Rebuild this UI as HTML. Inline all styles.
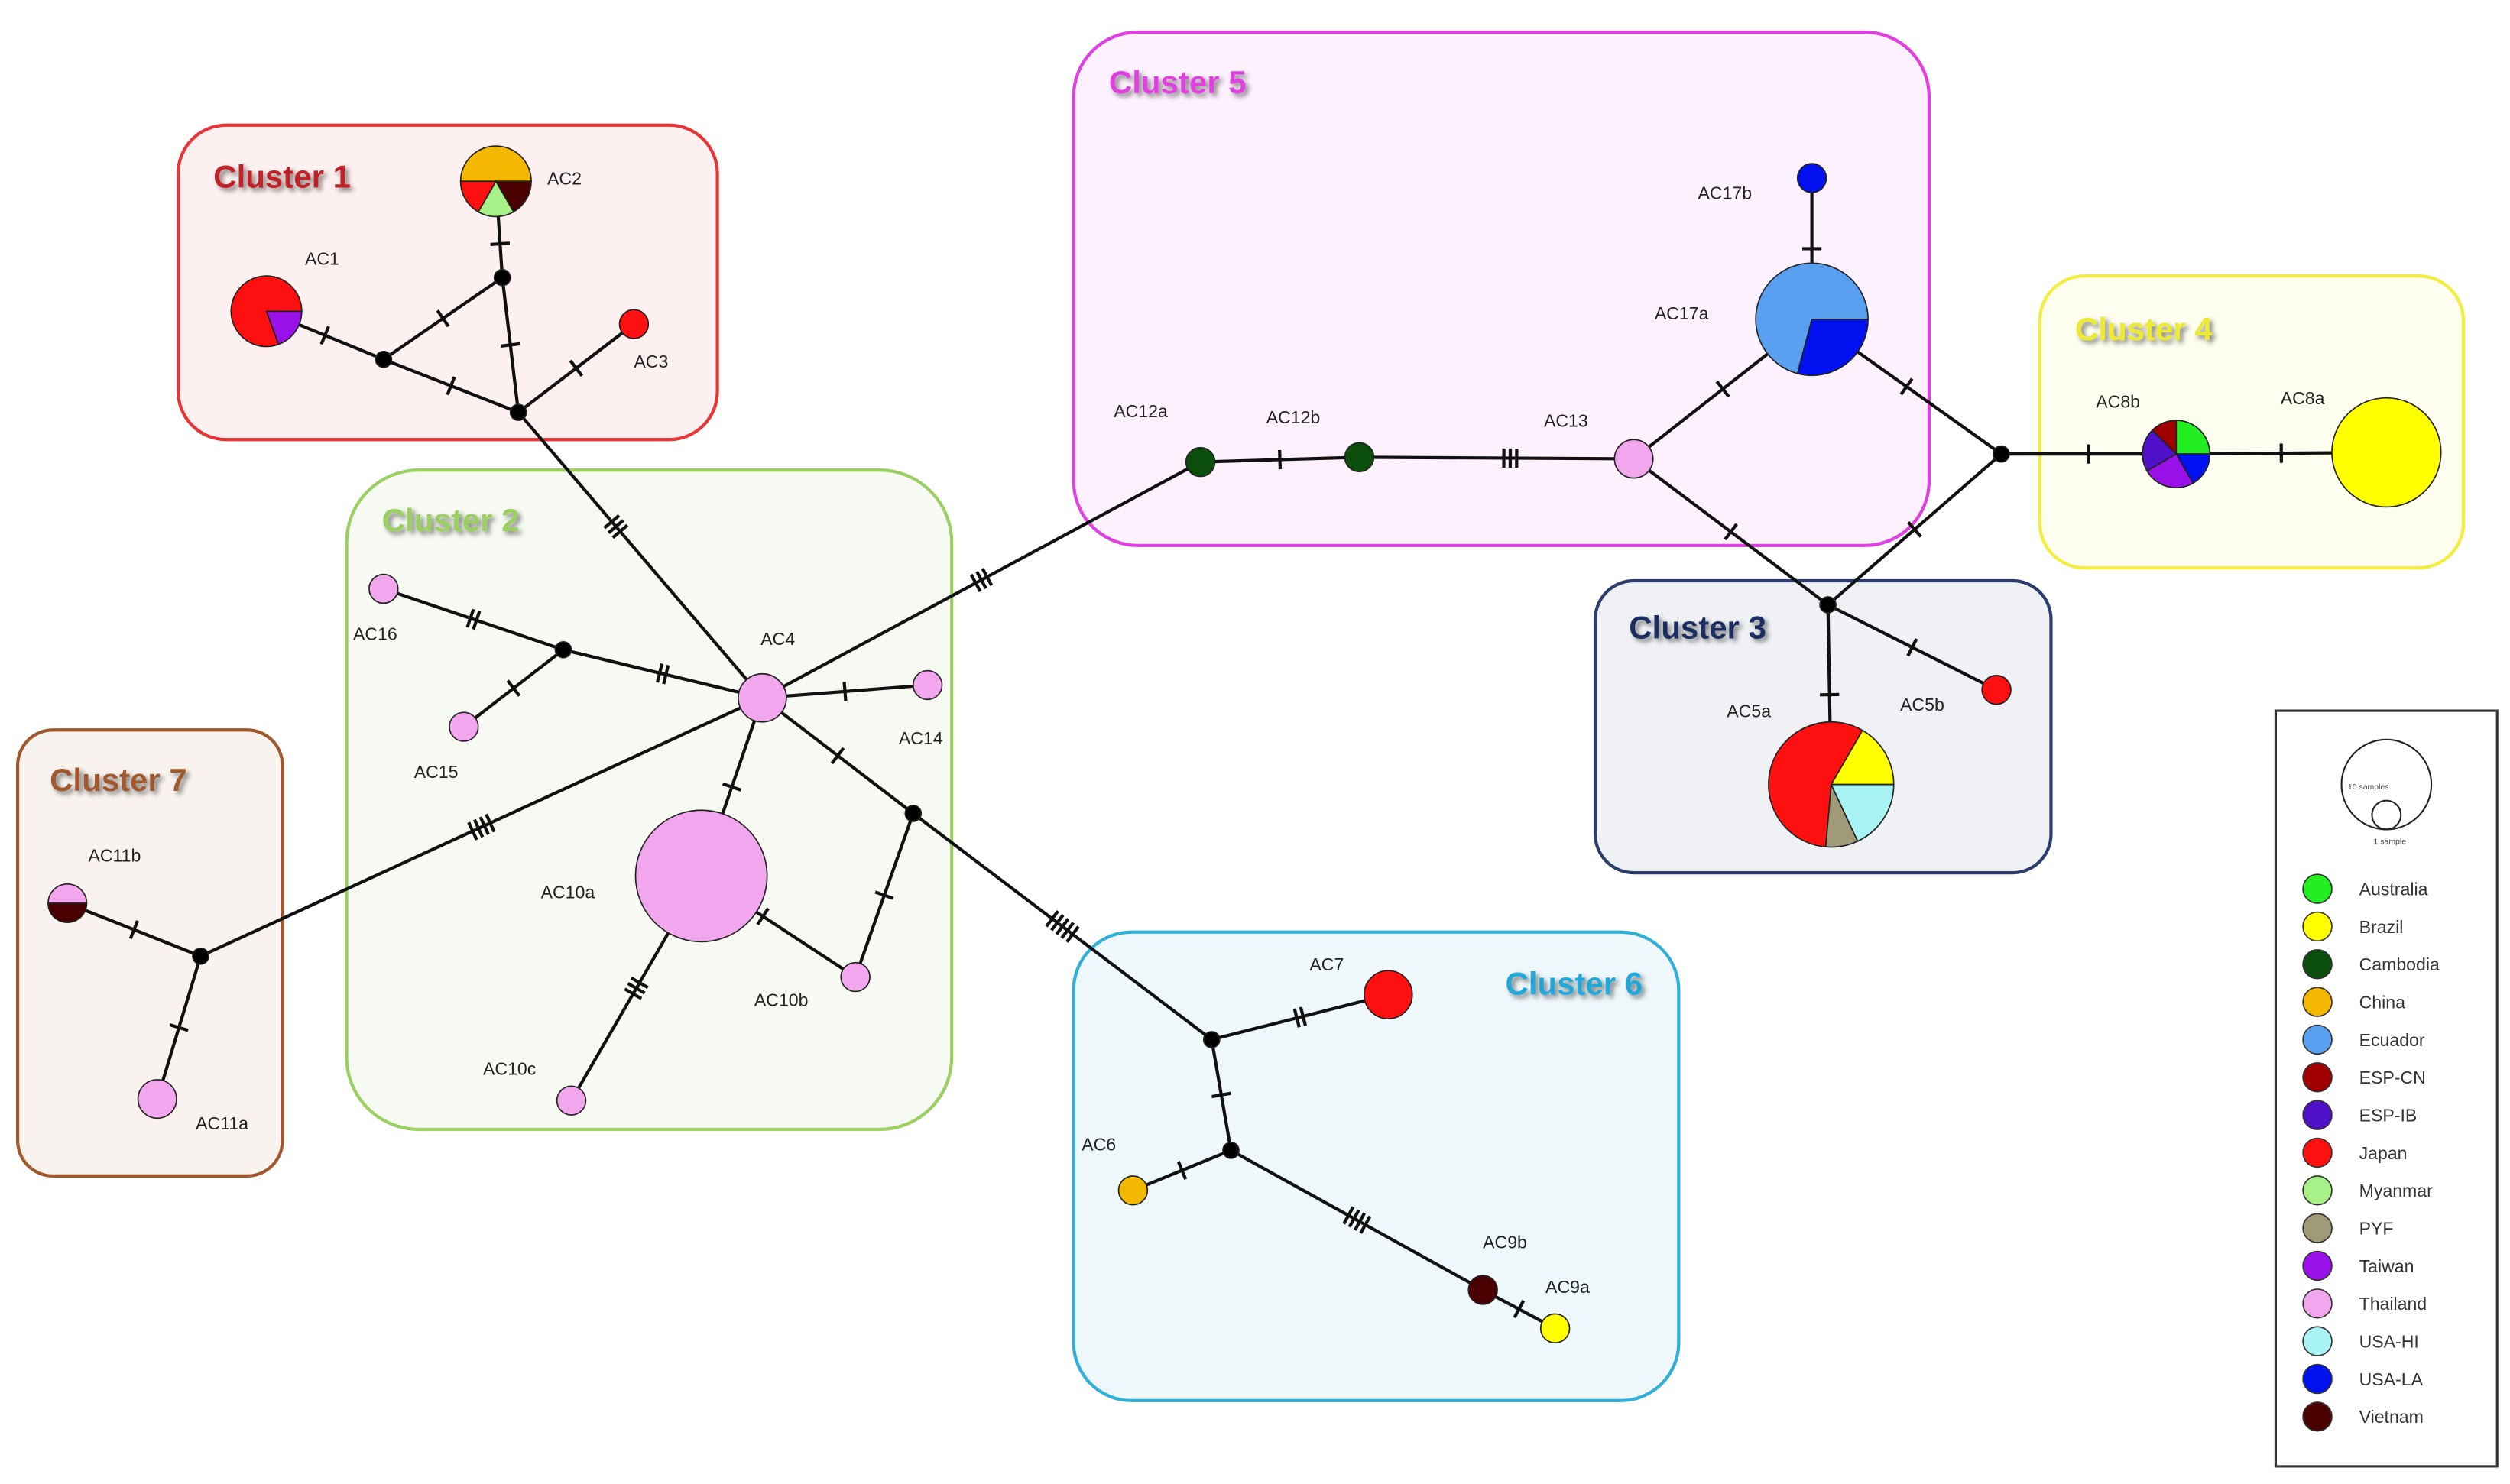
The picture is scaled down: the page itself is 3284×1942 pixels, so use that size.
<!DOCTYPE html>
<html><head><meta charset="utf-8"><style>
html,body{margin:0;padding:0;background:#fff;}
svg{display:block;}
text{font-family:"Liberation Sans",sans-serif;}
</style></head><body>
<svg id="s" width="3284" height="1942" viewBox="0 0 1564 925" preserveAspectRatio="none" xmlns="http://www.w3.org/2000/svg">
<defs><filter id="sh" x="-20%" y="-40%" width="140%" height="180%"><feGaussianBlur in="SourceAlpha" stdDeviation="1.5"/><feOffset dx="2" dy="2"/><feComponentTransfer><feFuncA type="linear" slope="0.5"/></feComponentTransfer><feMerge><feMergeNode/><feMergeNode in="SourceGraphic"/></feMerge></filter></defs>
<rect x="111" y="78" width="336" height="196" rx="30" fill="#fdf0f0" stroke="#e83535" stroke-width="2"/>
<rect x="216" y="293" width="377" height="411" rx="45" fill="#f7faf2" stroke="#9ccf62" stroke-width="2"/>
<rect x="11" y="455" width="165" height="278" rx="22" fill="#f8f3ef" stroke="#a0592d" stroke-width="2"/>
<rect x="669" y="20" width="533" height="320" rx="40" fill="#fdf1fd" stroke="#e040e0" stroke-width="2"/>
<rect x="1271" y="172" width="264" height="182" rx="28" fill="#fefef0" stroke="#f2ee40" stroke-width="2"/>
<rect x="994" y="362" width="284" height="182" rx="24" fill="#f0f1f5" stroke="#2c3e6e" stroke-width="2"/>
<rect x="669" y="581" width="377" height="292" rx="36" fill="#eef7fa" stroke="#30b0d8" stroke-width="2"/>
<g font-weight="bold" font-size="20" filter="url(#sh)">
<text x="133" y="117" fill="#c0222a">Cluster 1</text>
<text x="238" y="331" fill="#9ccf62">Cluster 2</text>
<text x="1015" y="398" fill="#1f2f5e">Cluster 3</text>
<text x="1293" y="212" fill="#eeea30">Cluster 4</text>
<text x="691" y="58" fill="#e040e0">Cluster 5</text>
<text x="938" y="620" fill="#20a8d8">Cluster 6</text>
<text x="31" y="493" fill="#a0592d">Cluster 7</text>
</g>
<g id="edges" stroke="#111" stroke-width="2" fill="none"></g>
<g id="nodes" stroke="#222" stroke-width="0.8"></g>
<g font-size="11" fill="#222">
<text x="190" y="165">AC1</text><text x="341" y="115">AC2</text><text x="395" y="229">AC3</text>
<text x="474" y="402">AC4</text><text x="220" y="399">AC16</text><text x="258" y="485">AC15</text>
<text x="560" y="464">AC14</text><text x="337" y="560">AC10a</text><text x="470" y="627">AC10b</text>
<text x="301" y="670">AC10c</text><text x="55" y="537">AC11b</text><text x="122" y="704">AC11a</text>
<text x="694" y="260">AC12a</text><text x="789" y="264">AC12b</text><text x="962" y="266">AC13</text>
<text x="1031" y="199">AC17a</text><text x="1058" y="124">AC17b</text>
<text x="1306" y="254">AC8b</text><text x="1421" y="252">AC8a</text>
<text x="1076" y="447">AC5a</text><text x="1184" y="443">AC5b</text>
<text x="816" y="605">AC7</text><text x="674" y="717">AC6</text>
<text x="924" y="778">AC9b</text><text x="963" y="806">AC9a</text>
</g>
<rect x="1418" y="443" width="138" height="471" fill="#fff" stroke="#333" stroke-width="1.5"/>
<circle cx="1487" cy="489" r="28" fill="none" stroke="#222" stroke-width="1"/>
<circle cx="1487" cy="508" r="9" fill="none" stroke="#222" stroke-width="1"/>
<text x="1463" y="492" font-size="5" fill="#444">10 samples</text>
<text x="1479" y="526" font-size="5" fill="#444">1 sample</text>
<g id="leg" font-size="11" fill="#333"></g>
</svg>
<script>
var NS="http://www.w3.org/2000/svg";
function el(p,t,a){var e=document.createElementNS(NS,t);for(var k in a)e.setAttribute(k,a[k]);p.appendChild(e);return e;}
var E=document.getElementById('edges'),N=document.getElementById('nodes');
var P={AC1:[166,194],j1:[239,224],j2:[313,173],AC2:[309,113],j3:[323,257],AC3:[395,202],AC4:[475,435],
j4:[351,405],AC16:[239,367],AC15:[289,453],AC14:[578,427],AC10a:[437,546],AC10b:[533,609],AC10c:[356,686],
j5:[569,507],j7:[125,596],AC11b:[42,563],AC11a:[98,685],AC12a:[748,288],AC12b:[847,285],AC13:[1018,286],
AC17a:[1129,199],AC17b:[1129,111],j8:[1247,283],AC8b:[1356,283],AC8a:[1487,282],j9:[1139,377],AC5a:[1141,489],
AC5b:[1244,430],j6:[755,648],AC7:[865,620],j10:[767,717],AC6:[706,742],AC9b:[924,804],AC9a:[969,828]};
var ED=[["AC1","j1",1],["j1","j2",1],["j2","AC2",1,0.35],["j1","j3",1],["j2","j3",1],["j3","AC3",1],["j3","AC4",3,0.4],
["AC4","j4",2],["j4","AC16",2],["j4","AC15",1],["AC4","AC14",1],["AC4","AC10a",1],["AC10a","AC10b",1,0.4],["AC10a","AC10c",3],
["AC4","j5",1],["j5","AC10b",1],["AC4","j7",4,0.5],["j7","AC11b",1],["j7","AC11a",1],["AC4","AC12a",3,0.5],["AC12a","AC12b",1],
["AC12b","AC13",3,0.55],["AC13","AC17a",1],["AC17a","AC17b",1,0.5],["AC17a","j8",1],["j8","AC8b",1],["AC8b","AC8a",1],
["AC13","j9",1],["j8","j9",1],["j9","AC5a",1,0.5],["j9","AC5b",1],["j5","j6",5,0.5],["j6","AC7",2],["j6","j10",1],
["j10","AC6",1],["j10","AC9b",4],["AC9b","AC9a",1]];
ED.forEach(function(e){var a=P[e[0]],b=P[e[1]];el(E,'line',{x1:a[0],y1:a[1],x2:b[0],y2:b[1]});
var dx=b[0]-a[0],dy=b[1]-a[1],L=Math.hypot(dx,dy),ux=dx/L,uy=dy/L,nx=-uy,ny=ux,t=e[3]||0.5,n=e[2];
for(var i=0;i<n;i++){var o=(i-(n-1)/2)*4,cx=a[0]+dx*t+ux*o,cy=a[1]+dy*t+uy*o;
el(E,'line',{x1:cx+nx*6,y1:cy+ny*6,x2:cx-nx*6,y2:cy-ny*6});}});
function pie(id,r,sl){var c=P[id];if(!sl){el(N,'circle',{cx:c[0],cy:c[1],r:r,fill:'#000'});return;}
if(sl.length==1){el(N,'circle',{cx:c[0],cy:c[1],r:r,fill:sl[0][2]});return;}
sl.forEach(function(s){var a1=s[0]*Math.PI/180,a2=s[1]*Math.PI/180,large=(s[1]-s[0])>180?1:0;
el(N,'path',{d:'M'+c[0]+','+c[1]+'L'+(c[0]+r*Math.cos(a1))+','+(c[1]+r*Math.sin(a1))+'A'+r+','+r+' 0 '+large+' 1 '+(c[0]+r*Math.cos(a2))+','+(c[1]+r*Math.sin(a2))+'Z',fill:s[2]});});}
var C={aus:'#22ee22',bra:'#ffff00',cam:'#0b4d0b',chi:'#f5b800',ecu:'#5aa0f0',escn:'#a00000',esib:'#5010c8',jap:'#ff1010',mya:'#a8f088',pyf:'#a09a78',tai:'#9a10e8',tha:'#f2a6ee',hi:'#a8f4f4',la:'#0010ee',vie:'#4a0000'};
['j1','j2','j3','j4','j5','j7','j8','j9','j6','j10'].forEach(function(k){el(N,'circle',{cx:P[k][0],cy:P[k][1],r:5,fill:'#000'});});
pie('AC1',22,[[0,70,C.tai],[70,360,C.jap]]);
pie('AC2',22,[[180,360,C.chi],[0,60,C.vie],[60,120,C.mya],[120,180,C.jap]]);
pie('AC3',9,[[0,0,C.jap]]);
pie('AC4',15,[[0,0,C.tha]]);
['AC16','AC15','AC14','AC10b','AC10c'].forEach(function(k){pie(k,9,[[0,0,C.tha]]);});
pie('AC10a',41,[[0,0,C.tha]]);
pie('AC11b',12,[[180,360,C.tha],[0,180,C.vie]]);
pie('AC11a',12,[[0,0,C.tha]]);
pie('AC12a',9,[[0,0,C.cam]]);pie('AC12b',9,[[0,0,C.cam]]);
pie('AC13',12,[[0,0,C.tha]]);
pie('AC17a',35,[[0,105,C.la],[105,360,C.ecu]]);
pie('AC17b',9,[[0,0,C.la]]);
pie('AC8b',21,[[-90,0,C.aus],[0,60,C.la],[60,150,C.tai],[150,225,C.esib],[225,270,C.escn]]);
pie('AC8a',34,[[0,0,C.bra]]);
pie('AC5a',39,[[-60,0,C.bra],[0,65,C.hi],[65,95,C.pyf],[95,300,C.jap]]);
pie('AC5b',9,[[0,0,C.jap]]);
pie('AC7',15,[[0,0,C.jap]]);pie('AC6',9,[[0,0,C.chi]]);pie('AC9b',9,[[0,0,C.vie]]);pie('AC9a',9,[[0,0,C.bra]]);
var LG=[['Australia',C.aus],['Brazil',C.bra],['Cambodia',C.cam],['China',C.chi],['Ecuador',C.ecu],['ESP-CN',C.escn],['ESP-IB',C.esib],['Japan',C.jap],['Myanmar',C.mya],['PYF',C.pyf],['Taiwan',C.tai],['Thailand',C.tha],['USA-HI',C.hi],['USA-LA',C.la],['Vietnam',C.vie]];
var G=document.getElementById('leg');
LG.forEach(function(l,i){var y=554+i*23.5;el(G,'circle',{cx:1444,cy:y,r:9,fill:l[1],stroke:'#333','stroke-width':0.8});
var t=el(G,'text',{x:1470,y:y+4});t.textContent=l[0];});
</script>
</body></html>
